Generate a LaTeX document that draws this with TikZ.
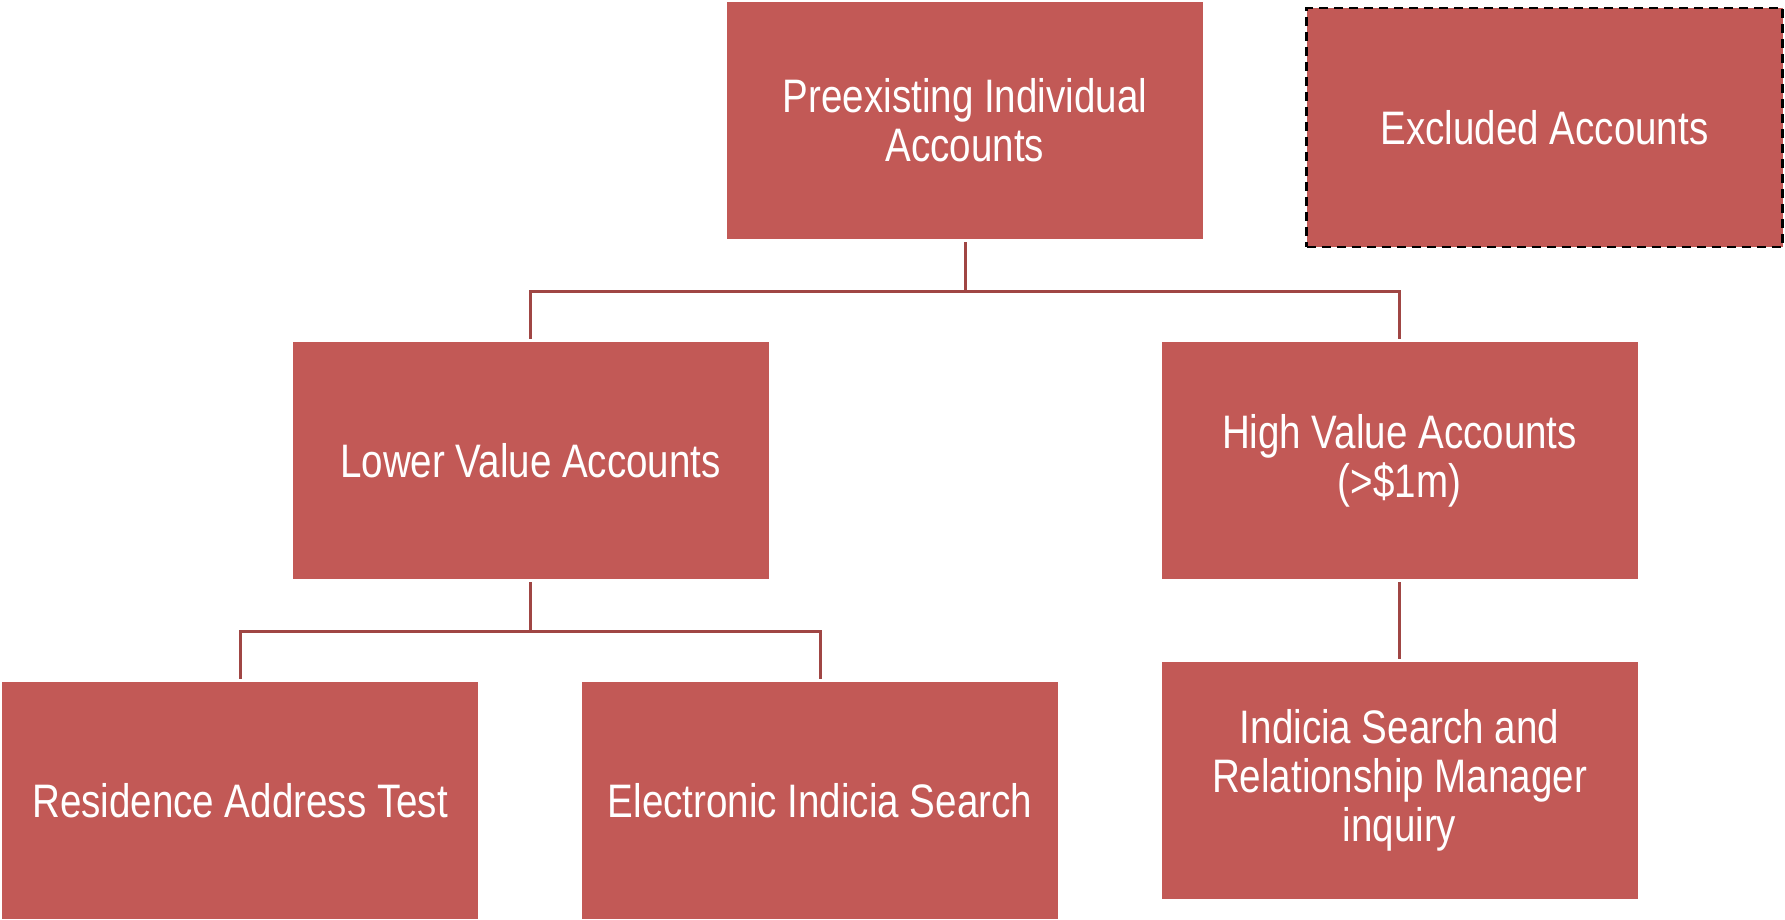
\documentclass[tikz,border=0pt]{standalone}
\usepackage{fontspec}
\setmainfont{Liberation Sans}[FakeStretch=0.82]
\definecolor{boxred}{RGB}{194,89,86}
\definecolor{linered}{RGB}{160,70,68}
\tikzset{
  box/.style={fill=boxred, draw=none, inner sep=0pt, minimum width=476pt, minimum height=237pt,
    text=white, align=center, font=\fontsize{47}{49}\selectfont},
  conn/.style={draw=linered, line width=3pt, shorten <=3pt, shorten >=3pt},
  excl/.style={box, draw=black, line width=2.5pt, dash pattern=on 9pt off 6pt, minimum height=239pt}
}
\begin{document}
\begin{tikzpicture}[x=1pt,y=-1pt]
\useasboundingbox (0,0) rectangle (1785,920);
\node[box] (top) at (965,120.5) {Preexisting Individual\\Accounts};
\node[excl] (ex) at (1544.5,127.5) {Excluded Accounts};
\node[box] (low) at (530.5,460.5) {Lower Value Accounts};
\node[box] (high) at (1399.5,460.5) {High Value Accounts\\(>\$1m)};
\node[box] (res) at (240,800.5) {Residence Address Test};
\node[box] (elec) at (820,800.5) {Electronic Indicia Search};
\node[box] (ind) at (1399.5,780.5) {Indicia Search and\\Relationship Manager\\inquiry};
\draw[conn] (top.south) -- ++(0,52) -| (low.north);
\draw[conn] (top.south) -- ++(0,52) -| (high.north);
\draw[conn] (low.south) -- ++(0,52) -| (res.north);
\draw[conn] (low.south) -- ++(0,52) -| (elec.north);
\draw[conn] (high.south) -- (ind.north);
\end{tikzpicture}
\end{document}
